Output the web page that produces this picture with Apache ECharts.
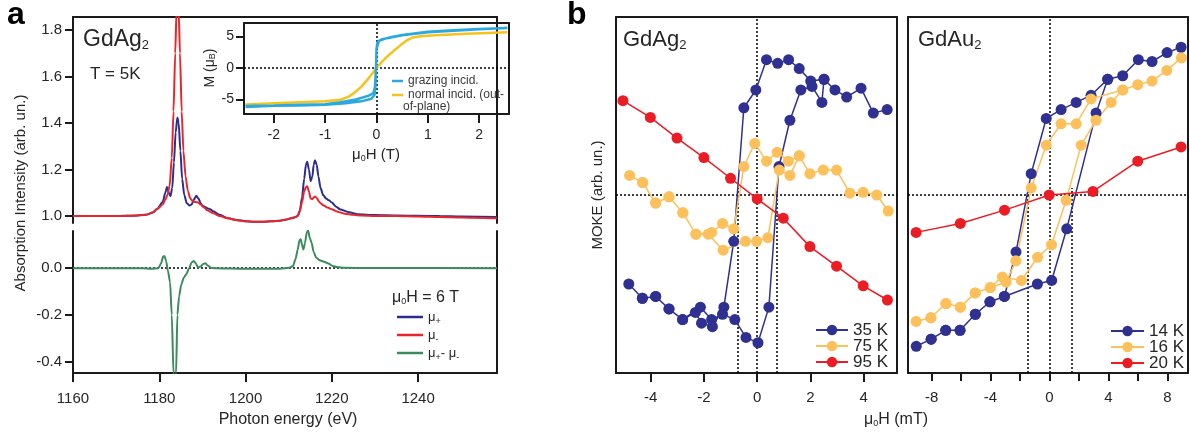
<!DOCTYPE html>
<html><head><meta charset="utf-8">
<script src="https://cdn.jsdelivr.net/npm/echarts@6/dist/echarts.min.js"></script>
<style>html,body{margin:0;padding:0;background:#fff}#c{width:1190px;height:434px}</style>
</head><body><div id="c"></div>
<script>
// ---------------- DATA ----------------
// Panel a: XAS spectra [photon energy (eV), absorption]
const muPlus = [[1160,1.0],[1170,1.0],[1175,1.002],[1177,1.006],[1178.5,1.015],[1179.5,1.03],[1180.8,1.06],[1181.4,1.1],[1181.8,1.125],[1182.2,1.1],[1182.6,1.085],[1183.0,1.12],[1183.4,1.23],[1183.8,1.36],[1184.2,1.424],[1184.5,1.40],[1184.9,1.28],[1185.3,1.16],[1185.8,1.09],[1186.4,1.055],[1187.0,1.045],[1187.5,1.05],[1188.0,1.07],[1188.6,1.087],[1189.1,1.075],[1189.6,1.055],[1190.1,1.043],[1190.7,1.038],[1191.3,1.032],[1191.8,1.029],[1192.5,1.02],[1194,1.005],[1196,0.99],[1198,0.983],[1200,0.978],[1202,0.975],[1204,0.975],[1206,0.977],[1208,0.98],[1209.5,0.985],[1210.5,0.99],[1211.5,0.995],[1212.1,1.0],[1212.6,1.025],[1213.1,1.08],[1213.6,1.16],[1214.0,1.22],[1214.3,1.233],[1214.7,1.2],[1215.1,1.15],[1215.5,1.17],[1215.8,1.22],[1216.1,1.24],[1216.5,1.22],[1216.9,1.17],[1217.4,1.12],[1218,1.09],[1218.7,1.075],[1219.3,1.068],[1220,1.058],[1221,1.04],[1222,1.028],[1224,1.016],[1226,1.008],[1230,1.004],[1235,1.002],[1240,1.001],[1245,1.0],[1250,0.998],[1258.3,0.996]];
const muMinus = [[1160,1.0],[1170,1.0],[1175,1.002],[1177,1.006],[1178.5,1.015],[1179.5,1.03],[1180.8,1.05],[1181.4,1.07],[1181.9,1.09],[1182.4,1.13],[1182.9,1.25],[1183.3,1.45],[1183.7,1.7],[1184.0,1.88],[1184.2,1.95],[1184.5,1.88],[1184.8,1.7],[1185.2,1.45],[1185.6,1.28],[1186.1,1.17],[1186.6,1.11],[1187.2,1.075],[1187.8,1.063],[1188.4,1.06],[1189.0,1.058],[1189.6,1.05],[1190.3,1.038],[1191.1,1.025],[1192.5,1.012],[1194,1.0],[1196,0.99],[1198,0.982],[1200,0.977],[1202,0.975],[1204,0.975],[1206,0.977],[1208,0.98],[1209.5,0.985],[1210.5,0.99],[1211.5,0.995],[1212.1,1.0],[1212.6,1.02],[1213.1,1.06],[1213.6,1.105],[1214.0,1.125],[1214.3,1.128],[1214.7,1.105],[1215.1,1.075],[1215.5,1.072],[1215.8,1.08],[1216.1,1.084],[1216.5,1.078],[1216.9,1.066],[1217.4,1.055],[1218,1.046],[1219,1.037],[1220,1.029],[1221,1.021],[1222,1.015],[1223,1.01],[1225,1.005],[1227,1.002],[1230,1.0],[1235,1.0],[1240,0.998],[1245,0.996],[1250,0.994],[1258.3,0.99]];
const muDiff = [[1160,0],[1170,0],[1176,0],[1178,-0.002],[1179.8,0.0],[1180.4,0.02],[1180.9,0.05],[1181.2,0.053],[1181.6,0.03],[1182.0,-0.01],[1182.5,-0.06],[1182.9,-0.2],[1183.3,-0.45],[1183.6,-0.55],[1183.9,-0.45],[1184.2,-0.2],[1184.6,-0.12],[1185.1,-0.07],[1185.7,-0.04],[1186.3,-0.025],[1186.9,0.0],[1187.5,0.025],[1188.0,0.031],[1188.5,0.02],[1189.0,0.003],[1189.6,0.008],[1190.2,0.018],[1190.7,0.021],[1191.2,0.012],[1192,0.002],[1193,0],[1200,-0.002],[1208,-0.002],[1210.2,0.002],[1211.0,0.01],[1211.6,0.04],[1212.1,0.08],[1212.5,0.12],[1212.8,0.125],[1213.1,0.1],[1213.4,0.08],[1213.8,0.11],[1214.2,0.155],[1214.5,0.162],[1214.9,0.13],[1215.3,0.11],[1215.8,0.07],[1216.4,0.045],[1217.2,0.034],[1218.2,0.028],[1219.2,0.02],[1220.2,0.01],[1221.2,0.005],[1223,0.002],[1230,0.001],[1258.3,0]];
// Inset: magnetization M (muB) vs field (T)
const grazing = [[-2.55,-6.2],[-2,-6.0],[-1.5,-5.95],[-1,-5.85],[-0.6,-5.6],[-0.3,-5.3],[-0.1,-4.9],[-0.04,-4.3],[-0.02,-3],[-0.01,0],[0.0,3],[0.02,4.1],[0.1,4.5],[0.3,4.9],[0.5,5.2],[1,5.7],[1.5,5.95],[2,6.15],[2.55,6.3],[2.55,6.25],[2,6.1],[1,5.65],[0.5,5.15],[0.2,4.7],[0.05,4.3],[0.0,3],[-0.01,0],[-0.03,-3],[-0.06,-4.0],[-0.15,-4.4],[-0.4,-5.0],[-0.7,-5.45],[-1,-5.75],[-1.5,-5.85],[-2,-5.95],[-2.55,-6.05]];
const normalInc = [[-2.55,-5.8],[-2,-5.6],[-1.5,-5.45],[-1,-5.3],[-0.7,-5.05],[-0.55,-4.6],[-0.44,-4.0],[-0.3,-3.0],[-0.18,-1.9],[-0.08,-0.9],[0,-0.05],[0.1,0.9],[0.21,1.8],[0.35,2.8],[0.47,3.6],[0.6,4.4],[0.7,4.8],[0.9,5.05],[1.25,5.2],[1.75,5.4],[2.55,5.65]];
// Panel b: MOKE loops [field (mT), signal (arb. un.)]
const ag35K = [[4.88,0.48],[4.36,0.46],[3.90,0.60],[3.36,0.55],[2.92,0.59],[2.51,0.65],[2.01,0.64],[1.58,0.71],[1.18,0.76],[0.77,0.74],[0.35,0.76],[-0.05,0.59],[-0.50,0.49],[-0.88,-0.26],[-1.25,-0.63],[-1.68,-0.74],[-2.09,-0.72],[-2.32,-0.66],[-2.80,-0.70],[-3.31,-0.64],[-3.81,-0.57],[-4.31,-0.58],[-4.82,-0.50],[-4.31,-0.58],[-3.81,-0.57],[-3.31,-0.64],[-2.80,-0.70],[-2.13,-0.63],[-1.71,-0.70],[-1.30,-0.67],[-0.84,-0.70],[-0.42,-0.80],[0.03,-0.83],[0.44,-0.63],[0.82,0.16],[1.23,0.42],[1.64,0.59],[2.06,0.61],[2.43,0.52],[2.51,0.65]];
const ag75K = [[4.92,-0.09],[4.49,0.0],[3.98,0.015],[3.48,0.01],[2.98,0.14],[2.48,0.14],[1.98,0.12],[1.58,0.22],[1.17,0.19],[0.75,0.24],[0.35,0.19],[-0.09,0.29],[-0.50,0.16],[-0.88,-0.19],[-1.30,-0.16],[-1.71,-0.21],[-2.30,-0.22],[-2.79,-0.10],[-3.31,-0.01],[-3.81,-0.045],[-4.30,0.07],[-4.79,0.11],[-4.30,0.07],[-3.81,-0.045],[-3.31,-0.01],[-2.79,-0.10],[-2.30,-0.22],[-1.84,-0.22],[-1.28,-0.31],[-0.44,-0.26],[-0.02,-0.26],[0.40,-0.24],[0.83,0.14],[1.23,0.11],[1.58,0.22]];
const ag95K = [[-5.04,0.53],[-4.01,0.436],[-3.01,0.32],[-2.0,0.21],[-1.0,0.094],[0,-0.022],[0.98,-0.13],[1.98,-0.29],[2.98,-0.40],[3.98,-0.51],[4.89,-0.59]];
const au14K = [[8.93,0.83],[7.98,0.80],[6.96,0.75],[6.03,0.76],[4.97,0.67],[3.95,0.65],[2.82,0.56],[1.81,0.52],[0.79,0.48],[-0.22,0.43],[-1.24,0.12],[-2.27,-0.32],[-3.06,-0.57],[-4.04,-0.60],[-5.03,-0.67],[-6.07,-0.76],[-7.04,-0.76],[-8.03,-0.81],[-9.04,-0.85],[-8.03,-0.81],[-7.04,-0.76],[-6.07,-0.76],[-5.03,-0.67],[-4.04,-0.60],[-3.06,-0.57],[-0.82,-0.50],[0.15,-0.48],[1.17,-0.19],[3.16,0.46],[3.95,0.65]];
const au16K = [[8.95,0.77],[7.96,0.70],[6.96,0.64],[5.99,0.62],[4.97,0.59],[2.82,0.54],[1.81,0.40],[0.79,0.40],[-0.22,0.28],[-1.24,0.04],[-2.28,-0.37],[-2.94,-0.49],[-4.02,-0.52],[-5.04,-0.55],[-6.05,-0.63],[-7.03,-0.61],[-8.05,-0.69],[-9.05,-0.71],[-8.05,-0.69],[-7.03,-0.61],[-6.05,-0.63],[-5.04,-0.55],[-4.02,-0.52],[-3.2,-0.46],[-1.90,-0.48],[-0.81,-0.35],[0.14,-0.28],[1.13,-0.03],[2.15,0.28],[3.16,0.42],[4.18,0.52],[4.97,0.59]];
const au20K = [[-9.05,-0.21],[-6.05,-0.16],[-3.05,-0.085],[-0.02,0.0],[2.95,0.02],[5.99,0.19],[8.93,0.27]];
// Tick values
const aXTicks = [1160,1180,1200,1220,1240];
const aUpperYTicks = [1.0,1.2,1.4,1.6,1.8];
const aLowerYTicks = [-0.4,-0.2,0.0];
const insetXTicks = [-2,-1,0,1,2];
const insetYTicks = [-5,0,5];
const bAgXTicks = [-4,-2,0,2,4];
const bAuXTicks = [-8,-6,-4,-2,0,2,4,6,8];
const bAuXLabels = [-8,-4,0,4,8];
const agCoercive = [-0.72,0.72];
const auCoercive = [-1.5,1.5];

// ---------------- STYLE ----------------
const FONT = '"Liberation Sans", Arial, Helvetica, sans-serif';
const AX = '#1a1a1a', TXT = '#262626';
const C_BLUE_A = '#2B2E8C', C_RED_A = '#E8262C', C_GREEN = '#3C8B5C';
const C_CYAN = '#29A9E0', C_YEL = '#F6C21C';
const C_NAVY = '#2E3192', C_ORANGE = '#FDC05A', C_RED = '#EC1C24';

function frameX(g, pos){return {type:'value',gridIndex:g,position:pos,min:0,max:1,
  axisLine:{show:true,onZero:false,lineStyle:{color:AX,width:2}},axisTick:{show:false},axisLabel:{show:false},splitLine:{show:false}};}
function frameY(g, pos){return {type:'value',gridIndex:g,position:pos,min:0,max:1,
  axisLine:{show:true,onZero:false,lineStyle:{color:AX,width:2}},axisTick:{show:false},axisLabel:{show:false},splitLine:{show:false}};}
function tickX(g,min,max,ticks,labels,fs,margin,tl){return {type:'value',gridIndex:g,position:'bottom',min:min,max:max,
  axisLine:{show:true,onZero:false,lineStyle:{color:AX,width:2}},
  axisTick:{show:true,inside:false,length:tl,customValues:ticks,lineStyle:{color:AX,width:2}},
  axisLabel:{show:true,customValues:labels,margin:margin,fontSize:fs,color:TXT,fontFamily:FONT,formatter:v=>String(v)},
  splitLine:{show:false}};}
function tickY(g,min,max,ticks,fs,margin,fmt){return {type:'value',gridIndex:g,position:'left',min:min,max:max,
  axisLine:{show:true,onZero:false,lineStyle:{color:AX,width:2}},
  axisTick:{show:true,inside:false,length:8,customValues:ticks,lineStyle:{color:AX,width:2}},
  axisLabel:{show:true,customValues:ticks,margin:margin,fontSize:fs,color:TXT,fontFamily:FONT,formatter:fmt},
  splitLine:{show:false}};}

const dotted = {color:'#000',type:[2,2],width:1.5};
function ml(data){return {silent:true,z:1,symbol:['none','none'],label:{show:false},lineStyle:dotted,emphasis:{disabled:true},animation:false,data:data};}
function spec(name,data,color,xi,yi,z,extra){return Object.assign({name:name,type:'line',xAxisIndex:xi,yAxisIndex:yi,data:data,symbol:'none',
  smooth:0.25,smoothMonotone:'x',lineStyle:{color:color,width:2},itemStyle:{color:color},z:z,emphasis:{disabled:true}},extra||{});}
function moke(name,data,color,xi,yi,extra){return Object.assign({name:name,type:'line',xAxisIndex:xi,yAxisIndex:yi,data:data,symbol:'circle',symbolSize:11,
  lineStyle:{color:color,width:1.5},itemStyle:{color:color},z:3,emphasis:{disabled:true}},extra||{});}
function vseg(x){return [{xAxis:x,yAxis:-1},{xAxis:x,yAxis:0.04}];}

const rich = {
  m:{fontSize:13,fontFamily:FONT,color:TXT},
  s:{fontSize:9,fontFamily:FONT,color:TXT,lineHeight:6,verticalAlign:'bottom'}
};
const legA = {'μ+':'{m|μ}{s|+}','μ-':'{m|μ}{s|-}','μ+- μ-':'{m|μ}{s|+}{m|- μ}{s|-}'};

const option = {
  animation:false,
  backgroundColor:'#fff',
  grid:[
    {left:73,top:17,width:424,height:206},
    {left:73,top:231,width:424,height:142},
    {left:244,top:23,width:265,height:91,show:true,backgroundColor:'#fff',borderWidth:0},
    {left:616,top:17,width:281,height:356},
    {left:908,top:17,width:280,height:356}
  ],
  xAxis:[
    {type:'value',gridIndex:0,min:1160,max:1258.3,show:false},
    frameX(0,'top'),
    tickX(1,1160,1258.3,aXTicks,aXTicks,15,18,9),
    tickX(2,-2.58,2.58,insetXTicks,insetXTicks,14,14,9),
    frameX(2,'top'),
    tickX(3,-5.3,5.25,bAgXTicks,bAgXTicks,15,17,9),
    frameX(3,'top'),
    tickX(4,-9.6,9.4,bAuXTicks,bAuXLabels,15,17,8),
    frameX(4,'top')
  ],
  yAxis:[
    tickY(0,0.97,1.856,aUpperYTicks,15,11,v=>v.toFixed(1)),
    frameY(0,'right'),
    tickY(1,-0.45,0.16,aLowerYTicks,15,11,v=>v.toFixed(1)),
    frameY(1,'right'),
    tickY(2,-7.3,7.1,insetYTicks,14,10,v=>String(v)),
    frameY(2,'right'),
    Object.assign(frameY(3,'left'),{min:-1,max:1}),
    frameY(3,'right'),
    Object.assign(frameY(4,'left'),{min:-1,max:1}),
    frameY(4,'right')
  ],
  legend:[
    {data:['μ+','μ-','μ+- μ-'],orient:'vertical',left:392,top:303,itemWidth:26,itemHeight:2.5,itemGap:0,icon:'rect',selectedMode:false,
      formatter:n=>legA[n],textStyle:{lineHeight:18,fontFamily:FONT,color:TXT,rich:rich}},
    {data:['grazing incid.','normal incid.'],orient:'vertical',left:387,top:69,itemWidth:11,itemHeight:2.5,itemGap:0,icon:'rect',selectedMode:false,
      formatter:n=>n==='normal incid.'?'normal incid. (out-':n,textStyle:{fontSize:12,lineHeight:14,fontFamily:FONT,color:'#3a3a3a'}},
    {data:['35 K','75 K','95 K'],orient:'vertical',left:810,top:316.5,itemWidth:32,itemHeight:13,itemGap:-1,selectedMode:false,
      textStyle:{fontSize:17,lineHeight:17,fontFamily:FONT,color:TXT}},
    {data:['14 K','16 K','20 K'],orient:'vertical',left:1105,top:317.5,itemWidth:33,itemHeight:13,itemGap:-1,selectedMode:false,
      textStyle:{fontSize:17,lineHeight:17,fontFamily:FONT,color:TXT}}
  ],
  series:[
    spec('μ+',muPlus,C_BLUE_A,0,0,3),
    spec('μ-',muMinus,C_RED_A,0,0,4),
    spec('μ+- μ-',muDiff,C_GREEN,2,2,3,{markLine:ml([{yAxis:0}])}),
    Object.assign(spec('normal incid.',normalInc,C_YEL,3,4,5,{markLine:ml([{yAxis:0},{xAxis:0}])}),{smooth:false,lineStyle:{color:C_YEL,width:2.5}}),
    Object.assign(spec('grazing incid.',grazing,C_CYAN,3,4,6),{smooth:false,lineStyle:{color:C_CYAN,width:2.5}}),
    moke('35 K',ag35K,C_NAVY,5,6,{markLine:ml([{yAxis:0},{xAxis:0},vseg(agCoercive[0]),vseg(agCoercive[1])])}),
    moke('75 K',ag75K,C_ORANGE,5,6),
    moke('95 K',ag95K,C_RED,5,6),
    moke('14 K',au14K,C_NAVY,7,8,{markLine:ml([{yAxis:0},{xAxis:0},vseg(auCoercive[0]),vseg(auCoercive[1])])}),
    moke('16 K',au16K,C_ORANGE,7,8),
    moke('20 K',au20K,C_RED,7,8)
  ],
  graphic:[
    {type:'text',x:7,y:15,style:{text:'a',font:'bold 32px '+FONT,fill:'#000',verticalAlign:'middle'}},
    {type:'text',x:567,y:15,style:{text:'b',font:'bold 32px '+FONT,fill:'#000',verticalAlign:'middle'}},
    {type:'text',x:83,y:40,style:{text:'{t|GdAg}{u|2}',verticalAlign:'middle',rich:{t:{fontSize:23,fontFamily:FONT,fill:TXT,lineHeight:24},u:{fontSize:13,fontFamily:FONT,fill:TXT,lineHeight:10,verticalAlign:'bottom'}}}},
    {type:'text',x:90,y:74,style:{text:'T = 5K',font:'17px '+FONT,fill:TXT,verticalAlign:'middle'}},
    {type:'text',x:403,y:107,style:{text:'of-plane)',font:'12px '+FONT,fill:'#3a3a3a',verticalAlign:'middle'}},
    {type:'text',x:392,y:298,style:{text:'{t|μ}{u|0}{t|H = 6 T}',verticalAlign:'middle',rich:{t:{fontSize:16,fontFamily:FONT,fill:TXT,lineHeight:17},u:{fontSize:9,fontFamily:FONT,fill:TXT,lineHeight:8,verticalAlign:'bottom'}}}},
    {type:'text',x:21,y:193,rotation:Math.PI/2,style:{text:'Absorption Intensity (arb. un.)',font:'15px '+FONT,fill:TXT,align:'center',verticalAlign:'middle'}},
    {type:'text',x:288,y:420,style:{text:'Photon energy (eV)',font:'16px '+FONT,fill:TXT,align:'center',verticalAlign:'middle'}},
    {type:'text',x:210,y:68,rotation:Math.PI/2,style:{text:'{t|M (μ}{u|B}{t|)}',align:'center',verticalAlign:'middle',rich:{t:{fontSize:14,fontFamily:FONT,fill:TXT,lineHeight:15},u:{fontSize:9,fontFamily:FONT,fill:TXT,lineHeight:8,verticalAlign:'bottom'}}}},
    {type:'text',x:376,y:155,style:{text:'{t|μ}{u|0}{t|H (T)}',align:'center',verticalAlign:'middle',rich:{t:{fontSize:15,fontFamily:FONT,fill:TXT,lineHeight:16},u:{fontSize:9,fontFamily:FONT,fill:TXT,lineHeight:8,verticalAlign:'bottom'}}}},
    {type:'text',x:623,y:40,style:{text:'{t|GdAg}{u|2}',verticalAlign:'middle',rich:{t:{fontSize:22,fontFamily:FONT,fill:TXT,lineHeight:23},u:{fontSize:13,fontFamily:FONT,fill:TXT,lineHeight:10,verticalAlign:'bottom'}}}},
    {type:'text',x:918,y:40,style:{text:'{t|GdAu}{u|2}',verticalAlign:'middle',rich:{t:{fontSize:22,fontFamily:FONT,fill:TXT,lineHeight:23},u:{fontSize:13,fontFamily:FONT,fill:TXT,lineHeight:10,verticalAlign:'bottom'}}}},
    {type:'text',x:598,y:195,rotation:Math.PI/2,style:{text:'MOKE (arb. un.)',font:'15px '+FONT,fill:TXT,align:'center',verticalAlign:'middle'}},
    {type:'text',x:896,y:420,style:{text:'{t|μ}{u|0}{t|H (mT)}',align:'center',verticalAlign:'middle',rich:{t:{fontSize:16,fontFamily:FONT,fill:TXT,lineHeight:17},u:{fontSize:9,fontFamily:FONT,fill:TXT,lineHeight:8,verticalAlign:'bottom'}}}}
  ]
};
const chart = echarts.init(document.getElementById('c'),null,{renderer:'canvas'});
chart.setOption(option);
</script>
</body></html>
